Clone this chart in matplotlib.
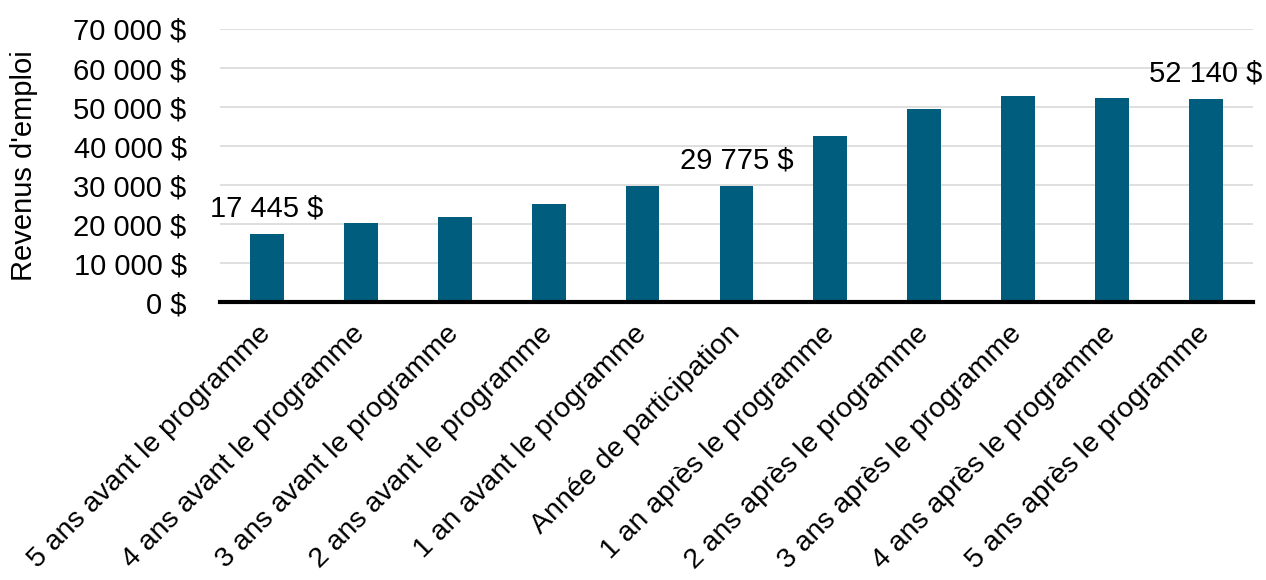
import matplotlib.pyplot as plt
import numpy as np
from matplotlib.ticker import FuncFormatter

plt.rcParams["font.family"] = ["Liberation Sans", "DejaVu Sans"]

periodes = [
    "5 ans avant le programme",
    "4 ans avant le programme",
    "3 ans avant le programme",
    "2 ans avant le programme",
    "1 an avant le programme",
    "Année de participation",
    "1 an après le programme",
    "2 ans après le programme",
    "3 ans après le programme",
    "4 ans après le programme",
    "5 ans après le programme",
]
revenus = [17445, 20250, 21850, 25100, 29800, 29775, 42500, 49600, 52750, 52250, 52140]
# only these bars get a value label
etiquetes = [0, 5, 10]


def dollars(v, pos=None):
    return f"{v:,.0f}".replace(",", " ") + " $"


def main():
    fig = plt.figure(figsize=(12.66, 5.8), dpi=100)
    ax = fig.add_axes([0.1738, 0.4793, 0.8159, 0.4707])

    x = np.arange(len(periodes))
    ax.bar(x, revenus, width=0.36, color="#015D7E", zorder=3)

    for i in etiquetes:
        ax.annotate(dollars(revenus[i]), (x[i], revenus[i]), xytext=(0, 8),
                    textcoords="offset points", ha="center", va="bottom",
                    fontsize=21, color="black")

    ax.set_xlim(-0.5, len(periodes) - 0.5)
    ax.set_ylim(0, 70000)
    ax.set_yticks(np.arange(0, 70001, 10000))
    ax.yaxis.set_major_formatter(FuncFormatter(dollars))
    ax.grid(axis="y", color="#d9d9d9", linewidth=1.2, zorder=0)

    ax.set_xticks(x)
    ax.set_xticklabels(periodes, rotation=45, ha="right", va="center",
                       rotation_mode="anchor", fontsize=20.5)
    ax.tick_params(axis="x", length=0, pad=20)
    ax.tick_params(axis="y", length=0, pad=24, labelsize=21)

    for side in ["left", "right", "top"]:
        ax.spines[side].set_visible(False)
    ax.spines["bottom"].set_linewidth(3)
    ax.spines["bottom"].set_zorder(4)

    ax.set_ylabel("Revenus d'emploi", fontsize=21)
    ax.yaxis.set_label_coords(-0.176, 0.5)

    fig.savefig("out.png", dpi=100)


if __name__ == "__main__":
    main()
